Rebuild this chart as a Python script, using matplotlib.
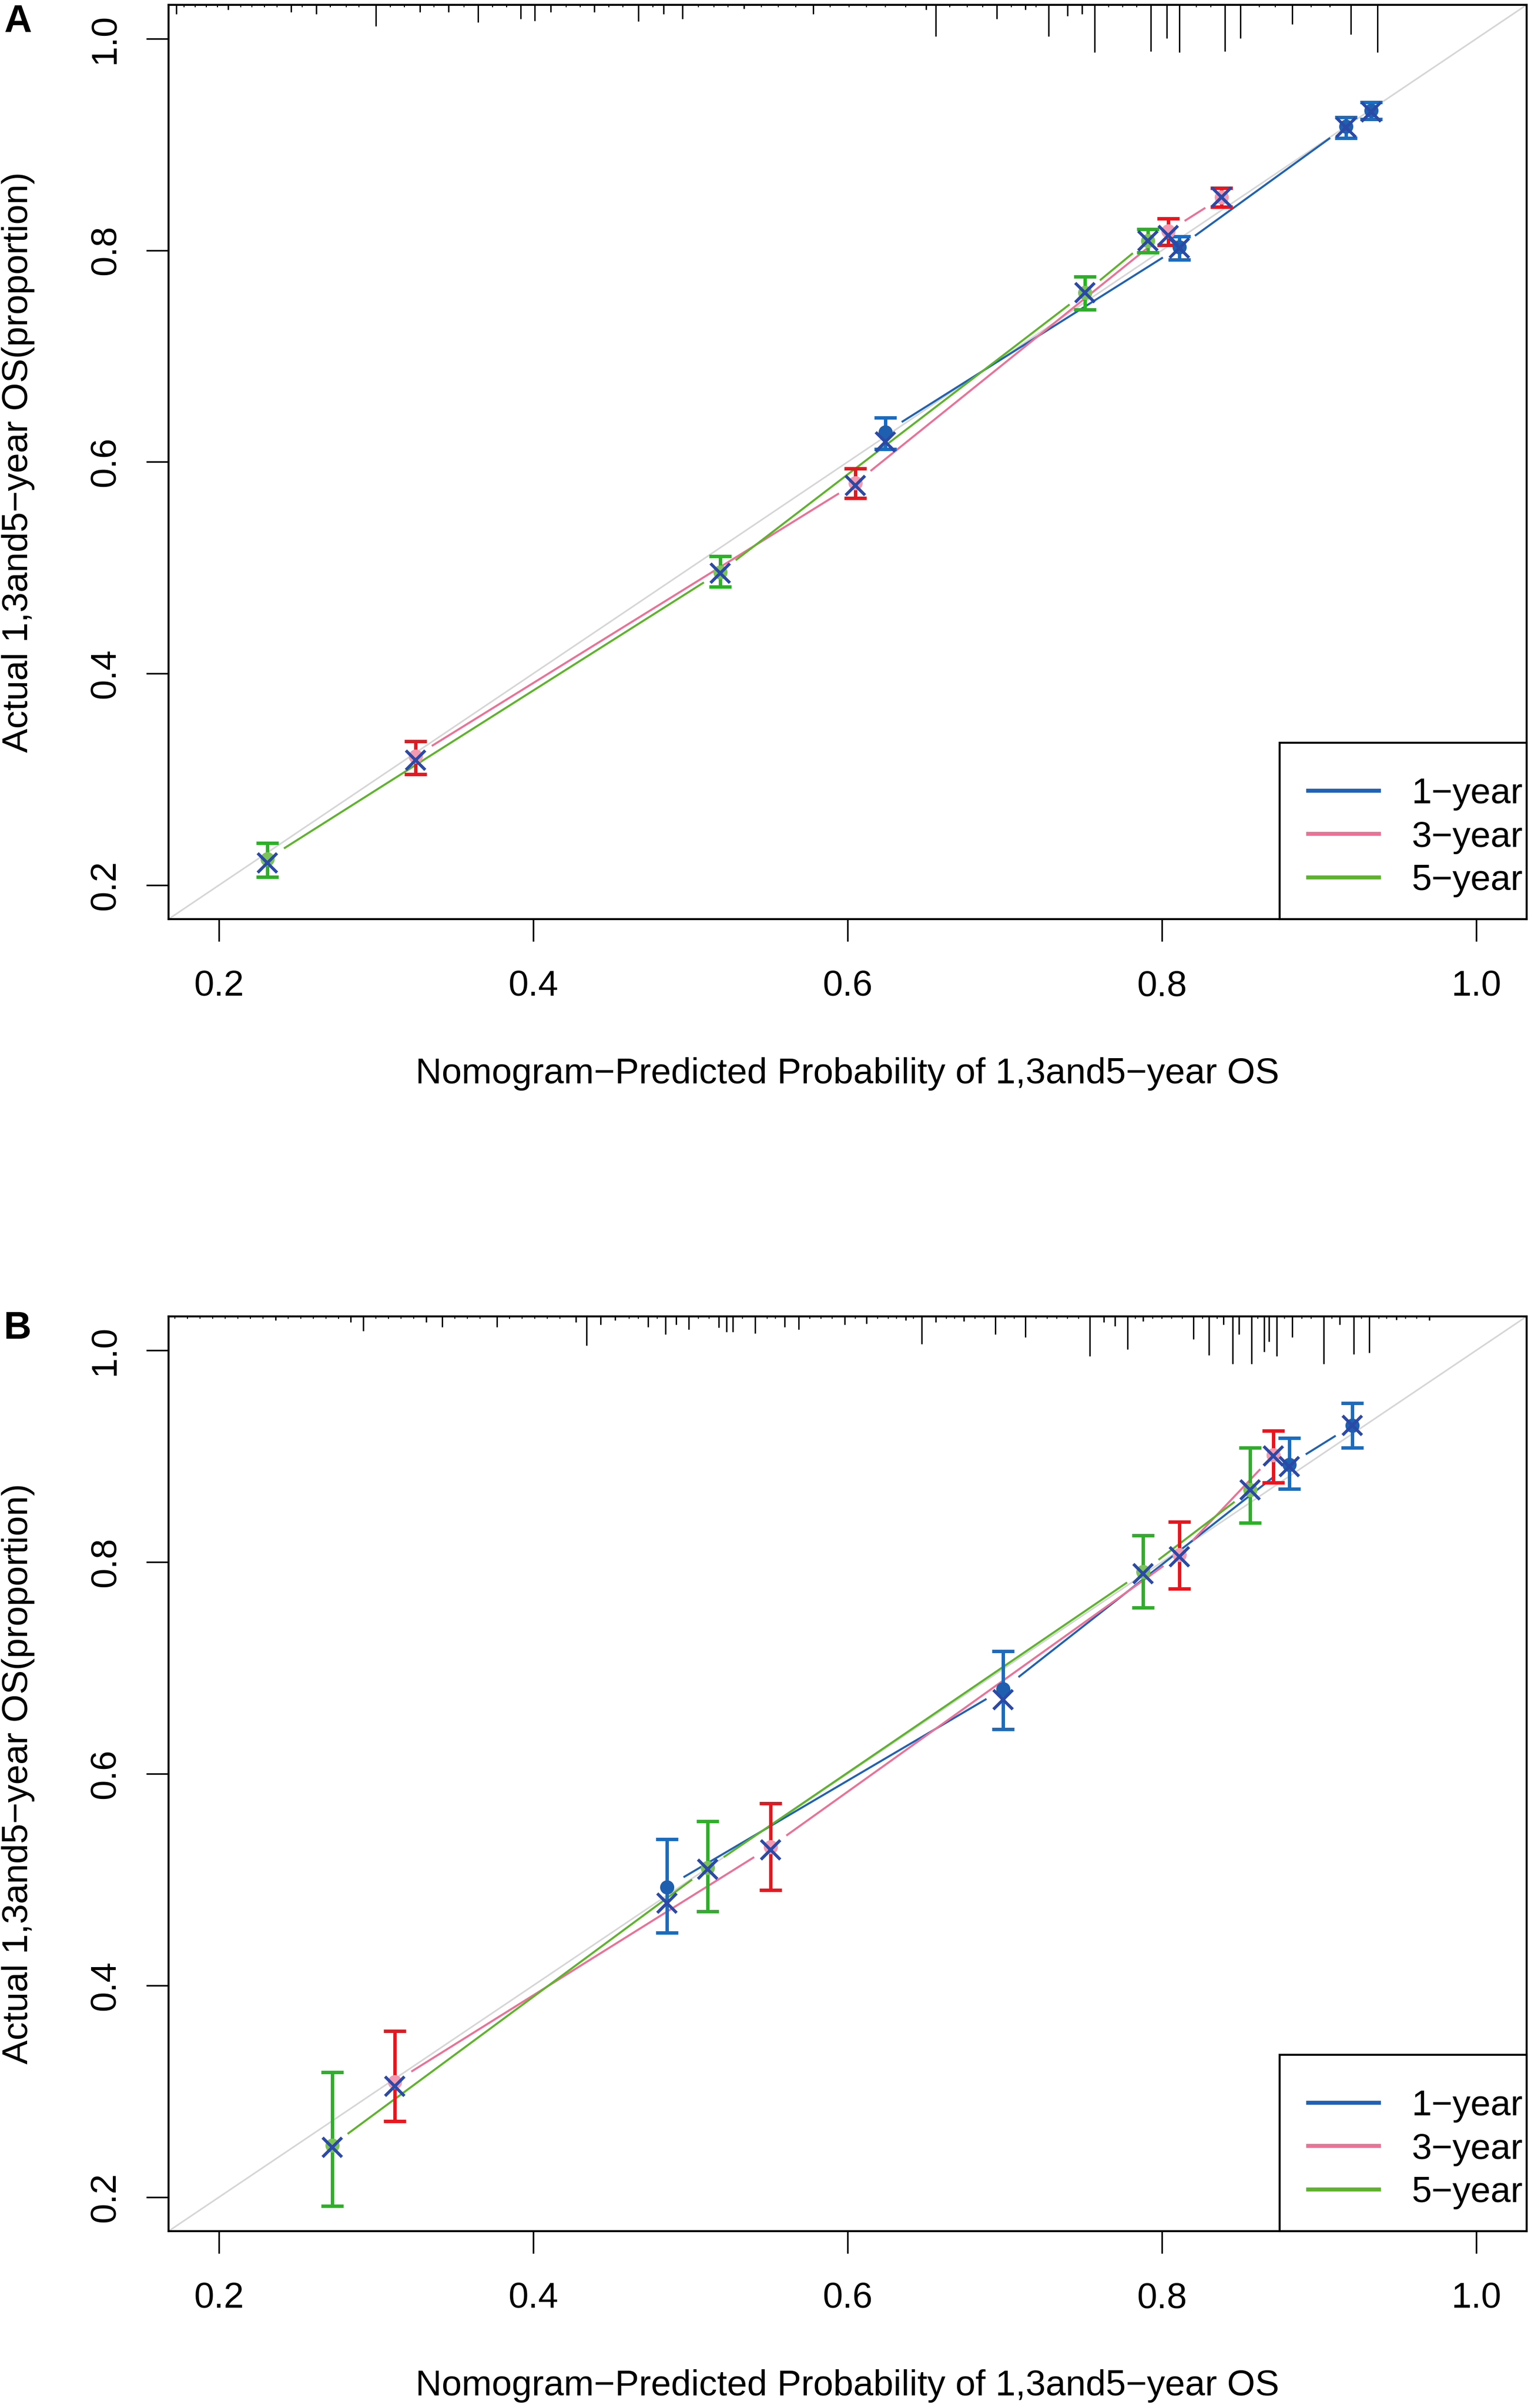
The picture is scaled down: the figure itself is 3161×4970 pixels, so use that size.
import numpy as np
import matplotlib
matplotlib.use("Agg")
import matplotlib.pyplot as plt
from matplotlib.lines import Line2D
from matplotlib.patches import Rectangle

plt.rcParams['font.family'] = ['Liberation Sans', 'DejaVu Sans']

# ---- panel A: observed KM estimates, CI, bias-corrected (x) ----
a1_x = [0.624, 0.811, 0.917, 0.933]
a1_y = [0.628, 0.803, 0.917, 0.932]
a1_lo = [0.612, 0.791, 0.906, 0.924]
a1_hi = [0.642, 0.813, 0.926, 0.940]
a1_corr = [0.619, 0.802, 0.916, 0.931]

a3_x = [0.325, 0.605, 0.804, 0.838]
a3_y = [0.322, 0.580, 0.818, 0.850]
a3_lo = [0.305, 0.566, 0.805, 0.841]
a3_hi = [0.336, 0.594, 0.830, 0.859]
a3_corr = [0.318, 0.578, 0.814, 0.850]

a5_x = [0.231, 0.519, 0.751, 0.791]
a5_y = [0.225, 0.496, 0.760, 0.809]
a5_lo = [0.208, 0.482, 0.744, 0.798]
a5_hi = [0.240, 0.511, 0.775, 0.820]
a5_corr = [0.221, 0.495, 0.760, 0.809]

# ---- panel B ----
b1_x = [0.485, 0.699, 0.881, 0.921]
b1_y = [0.493, 0.680, 0.892, 0.929]
b1_lo = [0.450, 0.642, 0.869, 0.908]
b1_hi = [0.538, 0.716, 0.917, 0.950]
b1_corr = [0.478, 0.670, 0.890, 0.929]

b3_x = [0.312, 0.551, 0.811, 0.871]
b3_y = [0.309, 0.531, 0.807, 0.901]
b3_lo = [0.272, 0.490, 0.775, 0.875]
b3_hi = [0.357, 0.572, 0.838, 0.924]
b3_corr = [0.305, 0.528, 0.805, 0.900]

b5_x = [0.272, 0.511, 0.788, 0.856]
b5_y = [0.249, 0.511, 0.791, 0.868]
b5_lo = [0.192, 0.470, 0.757, 0.837]
b5_hi = [0.318, 0.555, 0.825, 0.908]
b5_corr = [0.247, 0.510, 0.789, 0.868]

# distribution of predicted risk (rug on top), relative frequencies
rug_a_x = [0.173, 0.206, 0.246, 0.262, 0.300, 0.328, 0.346, 0.365, 0.392, 0.401,
           0.411, 0.439, 0.467, 0.483, 0.495, 0.534, 0.578, 0.650, 0.656, 0.695,
           0.713, 0.728, 0.740, 0.749, 0.757, 0.793, 0.803, 0.811, 0.840, 0.850,
           0.883, 0.920, 0.937]
rug_a_h = [1.9, 1.0, 1.5, 1.9, 4.4, 1.5, 1.5, 3.6, 2.9, 3.3,
           1.5, 1.5, 3.4, 1.9, 2.9, 0.8, 1.9, 1.0, 6.5, 2.9,
           1.0, 6.5, 2.3, 1.9, 9.8, 9.6, 6.9, 9.8, 9.6, 6.9,
           4.0, 6.1, 9.8]
rug_a_small = [0.178, 0.185, 0.192, 0.199, 0.214, 0.221, 0.229, 0.237, 0.253, 0.271,
               0.281, 0.289, 0.309, 0.318, 0.337, 0.356, 0.374, 0.383, 0.421, 0.430,
               0.448, 0.457, 0.476, 0.505, 0.515, 0.524, 0.545, 0.556, 0.567, 0.589,
               0.601, 0.612, 0.624, 0.637, 0.665, 0.676, 0.686, 0.704, 0.720, 0.766,
               0.775, 0.784, 0.822, 0.831, 0.862, 0.872, 0.895, 0.907]

rug_b_x = [0.236, 0.284, 0.292, 0.332, 0.342, 0.377, 0.427, 0.434, 0.443, 0.452,
           0.473, 0.484, 0.491, 0.499, 0.518, 0.523, 0.527, 0.541, 0.560, 0.569,
           0.598, 0.612, 0.637, 0.647, 0.656, 0.674, 0.694, 0.713, 0.754, 0.763,
           0.770, 0.778, 0.788, 0.820, 0.830, 0.839, 0.845, 0.849, 0.857, 0.865,
           0.868, 0.873, 0.883, 0.903, 0.913, 0.922, 0.932, 0.949, 0.970]
rug_b_h = [0.8, 1.2, 3.0, 1.2, 2.2, 2.2, 1.2, 6.0, 1.7, 0.8,
           2.2, 3.7, 1.7, 2.7, 2.3, 3.2, 3.2, 3.5, 2.2, 2.7,
           1.7, 1.5, 0.8, 5.7, 1.2, 1.0, 3.7, 4.3, 8.2, 1.2,
           2.0, 6.8, 1.0, 4.7, 8.0, 1.7, 9.7, 3.7, 9.7, 7.3,
           5.2, 8.2, 4.3, 9.7, 1.7, 7.8, 7.5, 0.7, 0.8]
rug_b_small = [0.172, 0.180, 0.188, 0.196, 0.204, 0.212, 0.220, 0.228, 0.244, 0.252,
               0.260, 0.268, 0.276, 0.300, 0.308, 0.316, 0.324, 0.350, 0.358, 0.366,
               0.385, 0.393, 0.401, 0.409, 0.417, 0.461, 0.467, 0.479, 0.505, 0.512,
               0.533, 0.549, 0.554, 0.576, 0.583, 0.590, 0.605, 0.619, 0.626, 0.631,
               0.642, 0.663, 0.668, 0.681, 0.687, 0.700, 0.706, 0.720, 0.727, 0.733,
               0.740, 0.747, 0.783, 0.794, 0.800, 0.806, 0.813, 0.826, 0.835, 0.861,
               0.878, 0.889, 0.895, 0.908, 0.927, 0.938, 0.943, 0.955, 0.962]

labels = ['1\u2212year', '3\u2212year', '5\u2212year']
xlab = 'Nomogram\u2212Predicted Probability of 1,3and5\u2212year OS'
ylab = 'Actual 1,3and5\u2212year OS(proportion)'
ticks = [0.2, 0.4, 0.6, 0.8, 1.0]

line_cols = ['#1F62B5', '#EE7096', '#5DB42A']
bar_cols = ['#1A6CC0', '#E8161E', '#2FAE2A']
dot_cols = ['#1F5FB0', '#F29AB3', '#7CC25A']
corr_col = '#2B49A6'

W, H, DPI = 3162, 4970, 300
FS = 17.9
RUG_UNIT = 0.0046
GAP = 40  # px gap around points on the connecting lines (R type="b")


def gapped_line(ax, x, y, color):
    pts = ax.transData.transform(np.column_stack([x, y]))
    inv = ax.transData.inverted()
    for p0, p1 in zip(pts[:-1], pts[1:]):
        d = p1 - p0
        L = np.hypot(d[0], d[1])
        if L <= 2 * GAP:
            continue
        u = d / L
        seg = inv.transform([p0 + u * GAP, p1 - u * GAP])
        ax.plot(seg[:, 0], seg[:, 1], color=color, lw=1.0, zorder=3,
                solid_capstyle='butt')


def draw_panel(ax, series, rug_x, rug_h, rug_small):
    ax.set_xlim(0.168, 1.032)
    ax.set_ylim(0.168, 1.032)
    ax.axline((0.5, 0.5), slope=1, color='#D6D6D6', lw=0.8, zorder=1)

    for i, (x, y, lo, hi, corr) in enumerate(series):
        gapped_line(ax, np.array(x), np.array(y), line_cols[i])
    for i, (x, y, lo, hi, corr) in enumerate(series):
        x = np.array(x); y = np.array(y)
        err = [y - np.array(lo), np.array(hi) - y]
        ax.errorbar(x, y, yerr=err, fmt='none', ecolor=bar_cols[i],
                    elinewidth=1.7, capsize=5.5, capthick=1.7, zorder=4)
        ax.plot(x, y, 'o', color=dot_cols[i], ms=6, zorder=5)
        ax.plot(x, corr, 'x', color=corr_col, ms=9.5, mew=1.5, zorder=6)

    top = ax.get_ylim()[1]
    h = np.array(rug_h) * RUG_UNIT
    ax.vlines(rug_x, top - h, top, color='black', lw=0.7, zorder=2)
    ax.vlines(rug_small, top - 0.5 * RUG_UNIT, top, color='black', lw=0.5, zorder=2)

    ax.set_xticks(ticks)
    ax.set_yticks(ticks)
    ax.set_xticklabels([f'{t:.1f}' for t in ticks])
    ax.set_yticklabels([f'{t:.1f}' for t in ticks], rotation=90, va='center')
    ax.tick_params(direction='out', length=11, width=0.8, labelsize=FS, pad=14)
    ax.tick_params(axis='y', pad=12)
    for s in ax.spines.values():
        s.set_linewidth(1.0)

    ax.set_xlabel(xlab, fontsize=FS)
    ax.xaxis.set_label_coords(0.5, -0.1694)
    ax.xaxis.label.set_va('center')
    ax.set_ylabel(ylab, fontsize=FS)
    ax.yaxis.set_label_coords(-0.1106, 0.5)
    ax.yaxis.label.set_va('center')

    # legend box as in R: wide left padding, text close to the right edge
    ax.add_patch(Rectangle((0.818, 0.0), 0.182, 0.193, transform=ax.transAxes,
                           facecolor='white', edgecolor='black', lw=1.0,
                           zorder=7, clip_on=False))
    handles = [Line2D([], [], color=c, lw=2.0) for c in line_cols]
    leg = ax.legend(handles, labels, loc='lower right',
                    bbox_to_anchor=(0.997, 0.024), borderaxespad=0, borderpad=0,
                    frameon=False, fontsize=FS, handlelength=1.95,
                    handletextpad=0.9, labelspacing=0.27)
    leg.set_zorder(8)


fig = plt.figure(figsize=(W / DPI, H / DPI), dpi=DPI)
axA = fig.add_axes([348 / W, 1 - 1897 / H, 2804 / W, 1887 / H])
axB = fig.add_axes([348 / W, 1 - 4605 / H, 2804 / W, 1888 / H])

draw_panel(axA,
           [(a1_x, a1_y, a1_lo, a1_hi, a1_corr),
            (a3_x, a3_y, a3_lo, a3_hi, a3_corr),
            (a5_x, a5_y, a5_lo, a5_hi, a5_corr)],
           rug_a_x, rug_a_h, rug_a_small)
draw_panel(axB,
           [(b1_x, b1_y, b1_lo, b1_hi, b1_corr),
            (b3_x, b3_y, b3_lo, b3_hi, b3_corr),
            (b5_x, b5_y, b5_lo, b5_hi, b5_corr)],
           rug_b_x, rug_b_h, rug_b_small)

fig.text(8 / W, 1 - 8 / H, 'A', fontsize=19, fontweight='bold', ha='left', va='top')
fig.text(8 / W, 1 - 2705 / H, 'B', fontsize=19, fontweight='bold', ha='left', va='top')

fig.savefig('out.png', dpi=DPI, facecolor='white')
